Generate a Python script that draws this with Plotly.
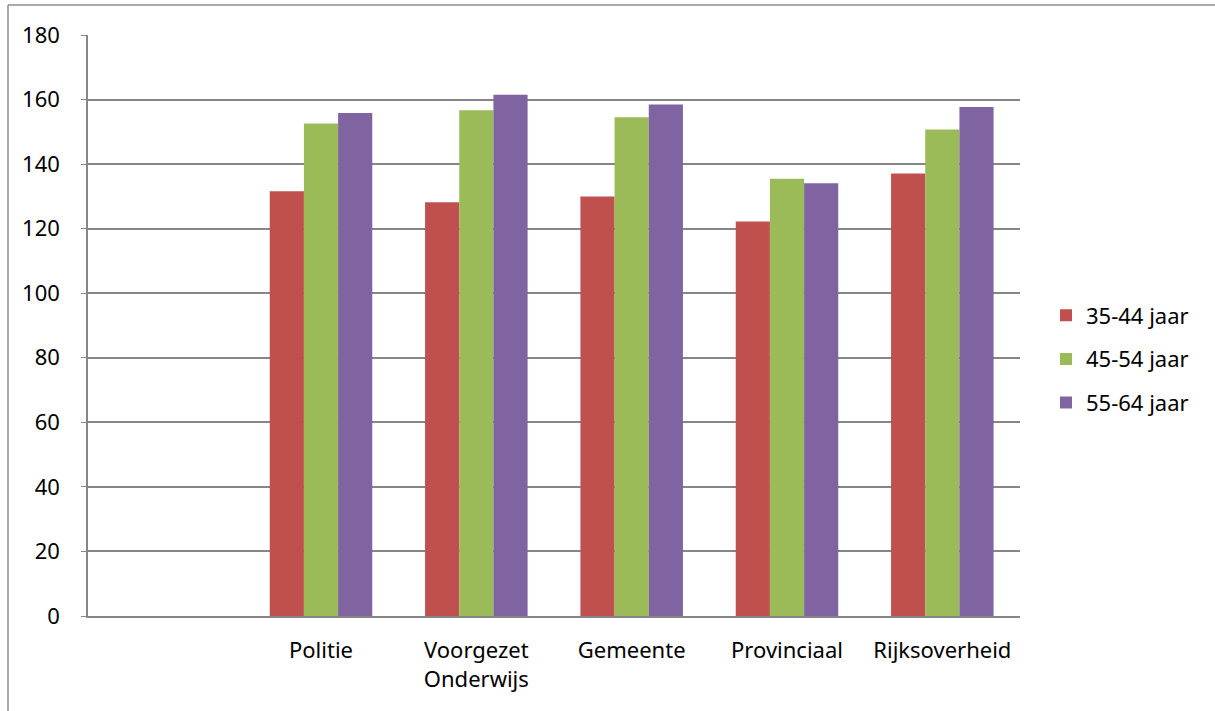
import plotly.graph_objects as go

categories = [" ", "Politie", "Voorgezet<br>Onderwijs", "Gemeente", "Provinciaal", "Rijksoverheid"]
series_names = ["35-44 jaar", "45-54 jaar", "55-64 jaar"]
v_35_44 = [None, 131.6, 128.2, 130.0, 122.2, 137.1]
v_45_54 = [None, 152.6, 156.7, 154.5, 135.5, 150.7]
v_55_64 = [None, 155.8, 161.5, 158.5, 134.1, 157.7]
colors = ["#C0504D", "#9BBB59", "#8064A2"]
y_ticks = [0, 20, 40, 60, 80, 100, 120, 140, 160, 180]

fig = go.Figure()
for i, (name, vals) in enumerate(zip(series_names, [v_35_44, v_45_54, v_55_64])):
    fig.add_trace(go.Bar(x=categories, y=vals, name=name, legendgroup=name,
                         marker=dict(color=colors[i], line=dict(width=0))))

W, H = 1215, 711
L, R, T, B = 88, 195, 35, 95
pw, ph = W - L - R, H - T - B

def px(x):
    return (x - L) / pw

def py(y):
    return (H - B - y) / ph

fig.update_layout(
    width=W, height=H,
    margin=dict(l=L, r=R, t=T, b=B),
    paper_bgcolor="white", plot_bgcolor="white",
    barmode="group", bargap=0.34, bargroupgap=0,
    font=dict(family="Noto Sans, Open Sans, sans-serif", size=22, color="black"),
    legend=dict(x=px(1046), xanchor="left", y=py(359), yanchor="middle",
                tracegroupgap=12, font=dict(size=22), itemwidth=30,
                bgcolor="rgba(0,0,0,0)"),
    shapes=[
        dict(type="line", xref="paper", yref="paper", x0=px(8), x1=px(1230), y0=py(5), y1=py(5),
             line=dict(color="#8C8C8C", width=1.5)),
        dict(type="line", xref="paper", yref="paper", x0=px(8), x1=px(8), y0=py(5), y1=py(730),
             line=dict(color="#8C8C8C", width=1.5)),
    ],
)
fig.update_yaxes(range=[0, 180], tickvals=y_ticks, showgrid=True, gridcolor="#868686", gridwidth=1.5,
                 showline=True, linecolor="#868686", linewidth=1.5, ticks="outside", ticklen=5,
                 tickcolor="#868686", ticklabelstandoff=17, zeroline=False)
fig.update_xaxes(showline=True, linecolor="#868686", linewidth=1.5, ticks="", ticklabelstandoff=14,
                 showgrid=False)

fig.write_html("out.html", config={"displayModeBar": False},
               post_script="document.body.style.margin='0';")
